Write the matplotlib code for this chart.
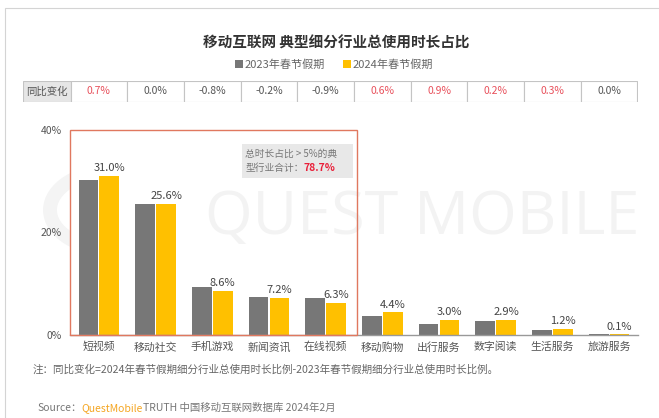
import matplotlib
matplotlib.use("Agg")
import matplotlib.pyplot as plt
from matplotlib.patches import Rectangle, Patch, Circle

plt.rcParams['font.family'] = ['Noto Sans CJK SC', 'DejaVu Sans']

# data
categories = ["短视频", "移动社交", "手机游戏", "新闻资讯", "在线视频",
              "移动购物", "出行服务", "数字阅读", "生活服务", "旅游服务"]
share_2024 = [31.0, 25.6, 8.6, 7.2, 6.3, 4.4, 3.0, 2.9, 1.2, 0.1]
yoy_change = [0.7, 0.0, -0.8, -0.2, -0.9, 0.6, 0.9, 0.2, 0.3, 0.0]
share_2023 = [round(a - b, 1) for a, b in zip(share_2024, yoy_change)]
y_ticks = [0, 20, 40]
top_n = 5            # categories with share > 5%
top_total = "78.7%"

W, H = 659, 418
GRAY = "#777777"
YELLOW = "#ffc000"


def fx(px):
    return px / W


def fy(py):
    # py counted from the top of the picture
    return 1 - py / H


fig = plt.figure(figsize=(W / 100, H / 100), dpi=100)

# outer frame (only left and top edges fall inside the picture)
fig.add_artist(Rectangle((fx(5), -0.1), 1.1, fy(8) + 0.1,
                         transform=fig.transFigure, fill=False,
                         edgecolor="#d4d4d4", linewidth=0.8))

# title + legend
fig.text(fx(336), fy(43), "移动互联网 典型细分行业总使用时长占比",
         ha="center", va="center", fontsize=10.5, fontweight="bold", color="#333333")
handles = [Patch(facecolor=GRAY, label="2023年春节假期"),
           Patch(facecolor=YELLOW, label="2024年春节假期")]
fig.legend(handles=handles, loc="center", bbox_to_anchor=(fx(334), fy(65)),
           ncol=2, frameon=False, fontsize=8, handlelength=0.7, handleheight=0.7,
           handletextpad=0.15, columnspacing=1.6, labelcolor="#666666")

# ---- main bar axes ----
x0_px, x1_px = 70, 638
ax = fig.add_axes([fx(x0_px), fy(335), fx(x1_px - x0_px), (335 - 130) / H])
xmin, xmax = -0.51, 9.51
ax.set_xlim(xmin, xmax)
ax.set_ylim(0, 40)

# faint watermark
ax.text(0.62, 0.57, "QUEST MOBILE", transform=ax.transAxes, ha="center", va="center",
        fontsize=44, color="#f3f3f3", family="Open Sans", zorder=0)
fig.add_artist(Circle((fx(112), fy(210)), 62 / W, transform=fig.transFigure, fill=False,
                      edgecolor="#f4f4f4", linewidth=10, zorder=0))

x = list(range(len(categories)))
bw = 0.35
ax.bar([i - 0.185 for i in x], share_2023, width=bw, color=GRAY, zorder=2)
bars = ax.bar([i + 0.185 for i in x], share_2024, width=bw, color=YELLOW, zorder=2)
for b, v in zip(bars, share_2024):
    ax.annotate(f"{v:.1f}%", (b.get_x() + b.get_width() / 2, v), xytext=(0, 2),
                textcoords="offset points", ha="center", va="bottom",
                fontsize=8, color="#444444")

# red box around the top categories
ax.add_patch(Rectangle((xmin, 0), top_n - 0.45 - xmin, 40, fill=False,
                       edgecolor="#e0785f", linewidth=1.0, zorder=3, clip_on=False))
# grey note box
ax.add_patch(Rectangle((2.53, 30.6), 1.95, 6.6, facecolor="#e8e8e8",
                       edgecolor="none", zorder=1))
ax.text(2.58, 35.4, "总时长占比 > 5%的典", fontsize=7, color="#777777",
        va="center", ha="left", zorder=4)
t2 = ax.text(2.58, 32.5, "型行业合计：", fontsize=7, color="#777777",
             va="center", ha="left", zorder=4)
ax.annotate(top_total, xy=(1, 0.5), xycoords=t2, va="center", ha="left",
            fontsize=7.5, color="#e8203a", fontweight="bold", zorder=4)

ax.set_xticks(x)
ax.set_xticklabels(categories, fontsize=7.8, color="#555555")
ax.set_yticks(y_ticks)
ax.set_yticklabels([f"{v}%" for v in y_ticks], fontsize=7.5, color="#555555")
ax.tick_params(length=0, pad=6)
ax.tick_params(axis="x", pad=5)
for s in ["top", "right", "left"]:
    ax.spines[s].set_visible(False)
ax.spines["bottom"].set_color("#999999")
ax.spines["bottom"].set_linewidth(1.0)

# ---- YoY table row ----
tx0 = 23
tax = fig.add_axes([fx(tx0), fy(102), fx(x1_px - tx0), 21 / H])
scale = (x1_px - x0_px) / (xmax - xmin)
tmin = xmin - (x0_px - tx0) / scale
tax.set_xlim(tmin, xmax)
tax.set_ylim(0, 1)
tax.axis("off")
tax.add_patch(Rectangle((tmin, 0), -0.5 - tmin, 1, facecolor="#e6e6e6",
                        edgecolor="#c4c4c4", linewidth=0.8))
tax.text((tmin - 0.5) / 2, 0.5, "同比变化", ha="center", va="center",
         fontsize=7.5, color="#555555")
for i, v in enumerate(yoy_change):
    tax.add_patch(Rectangle((i - 0.5, 0), 1, 1, facecolor="white",
                            edgecolor="#c4c4c4", linewidth=0.8))
    col = "#e8505b" if v > 0 else "#555555"
    tax.text(i, 0.5, f"{v:.1f}%", ha="center", va="center", fontsize=7.5, color=col)

# footnotes
fig.text(fx(33), fy(370), "注：同比变化=2024年春节假期细分行业总使用时长比例-2023年春节假期细分行业总使用时长比例。",
         ha="left", va="center", fontsize=7.6, color="#666666")
s1 = fig.text(fx(37), fy(408), "Source：", ha="left", va="center",
              fontsize=7.5, color="#777777")
s2 = ax.annotate("QuestMobile", xy=(1, 0.5), xycoords=s1, va="center", ha="left",
                 fontsize=7.5, color="#f5a623", annotation_clip=False)
ax.annotate("TRUTH 中国移动互联网数据库 2024年2月", xy=(1, 0.5), xycoords=s2,
            va="center", ha="left", fontsize=7.5, color="#777777", annotation_clip=False)

fig.savefig("out.png", dpi=100)
